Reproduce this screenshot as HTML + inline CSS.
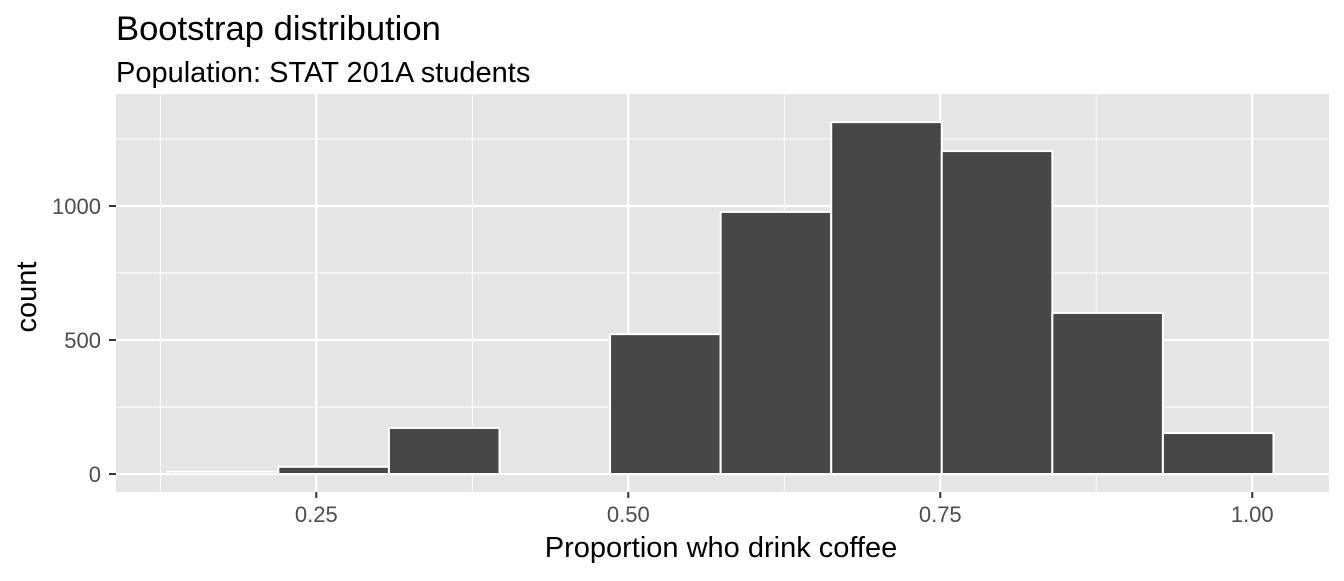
<!DOCTYPE html>
<html><head><meta charset="utf-8"><style>
body{margin:0;background:#fff;}
svg text{font-family:"Liberation Sans",Arial,sans-serif;}
</style></head><body>
<svg id="c" width="1344" height="576" xmlns="http://www.w3.org/2000/svg">
<text x="116" y="40" font-size="34.6" fill="#000">Bootstrap distribution</text>
<text x="116" y="82" font-size="29" fill="#000">Population: STAT 201A students</text>
<rect x="116" y="94" width="1213" height="398" fill="#e5e5e5"/>
<g id="grid"></g><g id="bars"></g><g id="axes"></g>
<text x="721" y="557" font-size="29" text-anchor="middle">Proportion who drink coffee</text>
<text transform="translate(36,297) rotate(-90)" font-size="29" text-anchor="middle">count</text>
</svg>
<script>
const binStarts=[0.131,0.2196,0.3082,0.3968,0.4854,0.574,0.6626,0.7512,0.8398,0.9284];
const binWidth=0.0886;
const counts=[8,27,172,0,522,978,1313,1205,601,153];
const xTicks=[0.25,0.5,0.75,1.0];
const xTickLabels=["0.25","0.50","0.75","1.00"];
const xMinor=[0.125,0.375,0.625,0.875];
const yTicks=[0,500,1000];
const yTickLabels=["0","500","1000"];
const yMinor=[250,750,1250];
const NS="http://www.w3.org/2000/svg";
const X0=116,X1=1329,Y0=94,Y1=492,xmin=0.0895,xmax=1.0615,ymin=-67,ymax=1418;
const xs=v=>X0+(v-xmin)/(xmax-xmin)*(X1-X0);
const ys=v=>Y1-(v-ymin)/(ymax-ymin)*(Y1-Y0);
function mk(tag,attrs,parent){const e=document.createElementNS(NS,tag);for(const k in attrs)e.setAttribute(k,attrs[k]);parent.appendChild(e);return e;}
const g=document.getElementById('grid'),b=document.getElementById('bars'),a=document.getElementById('axes');
xMinor.forEach(v=>{const l=mk('line',{x1:xs(v),x2:xs(v),y1:Y0,y2:Y1,stroke:'#fff','stroke-width':1},g);

});
yMinor.forEach(v=>{const l=mk('line',{x1:X0,x2:X1,y1:ys(v),y2:ys(v),stroke:'#fff','stroke-width':1},g);

});
xTicks.forEach((v,i)=>{const l=mk('line',{x1:xs(v),x2:xs(v),y1:Y0,y2:Y1,stroke:'#fff','stroke-width':2.2},g);


const t=mk('line',{x1:xs(v),x2:xs(v),y1:Y1,y2:Y1+6,stroke:'#333','stroke-width':2},a);


const tx=mk('text',{x:xs(v),y:522,'font-size':22,'text-anchor':'middle',fill:'#4d4d4d'},a);tx.textContent=xTickLabels[i];

});
yTicks.forEach((v,i)=>{const l=mk('line',{x1:X0,x2:X1,y1:ys(v),y2:ys(v),stroke:'#fff','stroke-width':2.2},g);


const t=mk('line',{x1:X0-7,x2:X0,y1:ys(v),y2:ys(v),stroke:'#333','stroke-width':2},a);


const tx=mk('text',{x:X0-15,y:ys(v)+8,'font-size':22,'text-anchor':'end',fill:'#4d4d4d'},a);tx.textContent=yTickLabels[i];

});
binStarts.forEach((s,i)=>{const x=xs(s),w=xs(s+binWidth)-x,y=ys(counts[i]);
const r=mk('rect',{x:x,y:y,width:w,height:ys(0)-y,fill:'#474747',stroke:'#fff','stroke-width':2},b);

});
</script>
</body></html>
